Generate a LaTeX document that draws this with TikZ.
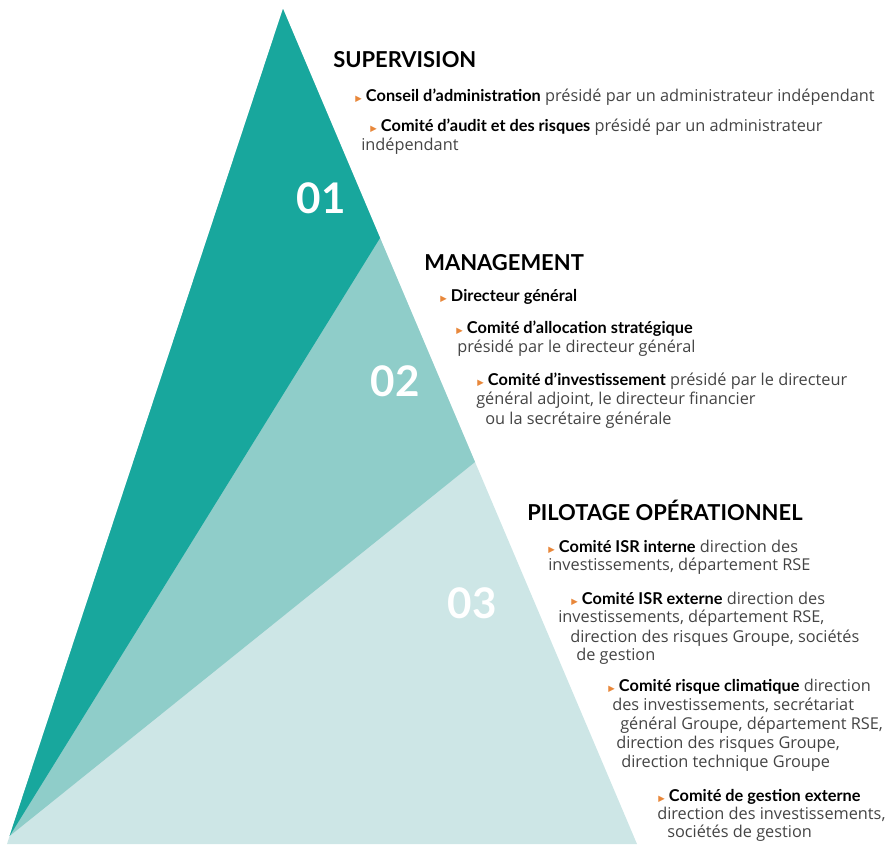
\documentclass[tikz,border=0pt]{standalone}
\usepackage{fontspec}
\setmainfont{Open Sans}
\newfontfamily\titrefont{Lato}
\newfontfamily\dejavu{DejaVu Sans}
\definecolor{tealdark}{HTML}{18A79D}
\definecolor{tealmid}{HTML}{8FCDC9}
\definecolor{teallight}{HTML}{CDE6E6}
\definecolor{puceorange}{HTML}{E8873A}
\definecolor{textgray}{HTML}{444444}
\newcommand{\puce}{{\color{puceorange}\dejavu\fontsize{6}{7}\selectfont ▶}\hspace{3pt}}
\newcommand{\gras}[1]{\textcolor{black}{\titrefont\bfseries #1}}
\begin{document}
\begin{tikzpicture}[x=0.025cm, y=-0.025cm,
    txt/.style = {anchor=west, inner sep=0pt, text=textgray, text height=1.6ex, text depth=.4ex, font=\fontsize{11.6}{13}\selectfont},
    titre/.style = {anchor=west, inner sep=0pt, text=black, font=\titrefont\fontsize{15.6}{18}\selectfont\bfseries},
    numero/.style = {text=white, inner sep=0pt, font=\titrefont\fontsize{30}{32}\selectfont\bfseries}]
    \useasboundingbox (0,0) rectangle (888,844);
    % pyramid
    \coordinate (apex) at (283,9);
    \coordinate (cut1) at (380,238);
    \coordinate (cut2) at (475,462);
    \coordinate (baseR) at (637,844);
    \coordinate (baseL) at (7,844);
    \coordinate (meet) at (9.6,836);
    \fill[teallight] (apex) -- (baseR) -- (baseL) -- cycle;
    \fill[tealmid] (apex) -- (cut2) -- (meet) -- cycle;
    \fill[tealdark] (apex) -- (cut1) -- (meet) -- cycle;
    \node[numero] (n1) at (321,198) {01};
    \node[numero] (n2) at (395,381) {02};
    \node[numero] (n3) at (472,603) {03};
    % 01
    \node[titre] (sup) at (333,60) {SUPERVISION};
    \node[txt] (sup1) at (355,97) {\puce\gras{Conseil d’administration} présidé par un administrateur indépendant};
    \node[txt] (sup2) at (370,127) {\puce\gras{Comité d’audit et des risques} présidé par un administrateur};
    \node[txt] (sup2b) at (361,146) {indépendant};
    % 02
    \node[titre] (man) at (424,263) {MANAGEMENT};
    \node[txt] (man1) at (440,297) {\puce\gras{Directeur général}};
    \node[txt] (man2) at (456,329) {\puce\gras{Comité d’allocation stratégique}};
    \node[txt] (man2b) at (457,348) {présidé par le directeur général};
    \node[txt] (man3) at (477,381) {\puce\gras{Comité d’investissement} présidé par le directeur};
    \node[txt] (man3b) at (476,400) {général adjoint, le directeur financier};
    \node[txt] (man3c) at (485,420) {ou la secrétaire générale};
    % 03
    \node[titre] (pil) at (527,510) {PILOTAGE OPÉRATIONNEL};
    \node[txt] (pil1) at (548,548) {\puce\gras{Comité ISR interne} direction des};
    \node[txt] (pil1b) at (548,566) {investissements, département RSE};
    \node[txt] (pil2) at (571,600) {\puce\gras{Comité ISR externe} direction des};
    \node[txt] (pil2b) at (558,618) {investissements, département RSE,};
    \node[txt] (pil2c) at (570,638) {direction des risques Groupe, sociétés};
    \node[txt] (pil2d) at (576,656) {de gestion};
    \node[txt] (pil3) at (608,687) {\puce\gras{Comité risque climatique} direction};
    \node[txt] (pil3b) at (612,706) {des investissements, secrétariat};
    \node[txt] (pil3c) at (620,725) {général Groupe, département RSE,};
    \node[txt] (pil3d) at (616,744) {direction des risques Groupe,};
    \node[txt] (pil3e) at (621,763) {direction technique Groupe};
    \node[txt] (pil4) at (658,797) {\puce\gras{Comité de gestion externe}};
    \node[txt] (pil4b) at (657,815) {direction des investissements,};
    \node[txt] (pil4c) at (667,833) {sociétés de gestion};
\end{tikzpicture}
\end{document}
